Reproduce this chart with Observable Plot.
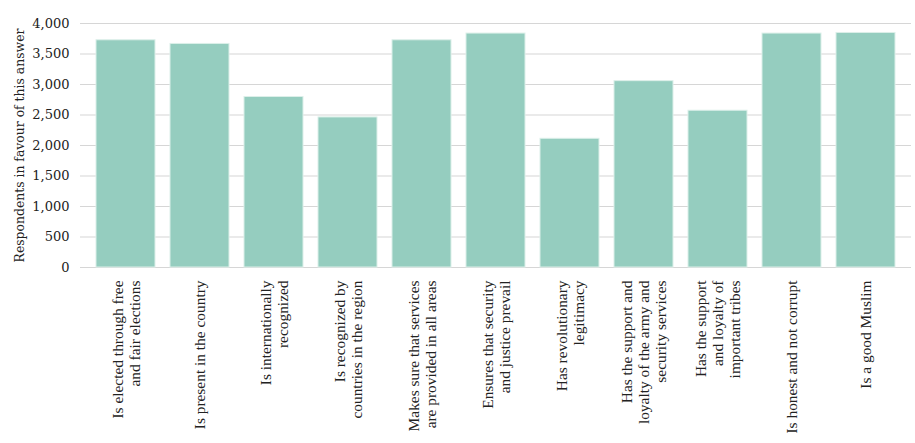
<!DOCTYPE html>
<html>
<head>
<meta charset="utf-8">
<script src="https://cdn.jsdelivr.net/npm/d3@7"></script>
<script src="https://cdn.jsdelivr.net/npm/@observablehq/plot@0.6"></script>
<style>
  html, body { margin: 0; padding: 0; background: #fff; }
  #chart svg { display: block; }
</style>
</head>
<body>
<div id="chart"></div>
<script>
const categories = [
  "Is elected through free\nand fair elections",
  "Is present in the country",
  "Is internationally\nrecognized",
  "Is recognized by\ncountries in the region",
  "Makes sure that services\nare provided in all areas",
  "Ensures that security\nand justice prevail",
  "Has revolutionary\nlegitimacy",
  "Has the support and\nloyalty of the army and\nsecurity services",
  "Has the support\nand loyalty of\nimportant tribes",
  "Is honest and not corrupt",
  "Is a good Muslim"
];
const values = [3725, 3665, 2795, 2460, 3725, 3835, 2110, 3055, 2570, 3835, 3845];
const yTicks = [0, 500, 1000, 1500, 2000, 2500, 3000, 3500, 4000];
const yLabel = "Respondents in favour of this answer";

const data = categories.map((c, i) => ({category: c, value: values[i]}));

const chart = Plot.plot({
  width: 915,
  height: 443,
  marginTop: 23,
  marginBottom: 176,
  marginLeft: 80,
  marginRight: 4,
  style: {fontFamily: "'DejaVu Serif', serif", fontSize: "13px", color: "#222", background: "#fff"},
  x: {domain: categories, padding: 0.2, label: null},
  y: {domain: [0, 4000], label: null},
  marks: [
    Plot.gridY(yTicks, {stroke: "#d6d6d6", strokeOpacity: 1, strokeWidth: 1.2}),
    Plot.barY(data, {x: "category", y: "value", fill: "#95cdbf", stroke: "#dcefe9", strokeWidth: 1}),
    Plot.axisY(yTicks, {tickSize: 0, tickPadding: 11, tickFormat: d3.format(","), fontSize: 13,
      label: yLabel, labelAnchor: "center", labelArrow: "none", labelOffset: 65}),
    Plot.axisX({tickSize: 0, tickPadding: 13, tickRotate: -90, lineHeight: 1.1, fontSize: 15.4,
      fontFamily: "'Liberation Serif', serif"})
  ]
});
document.getElementById("chart").appendChild(chart);
d3.select(chart).selectAll('g[aria-label="y-axis label"]').attr("font-size", 12.4);
</script>
</body>
</html>
